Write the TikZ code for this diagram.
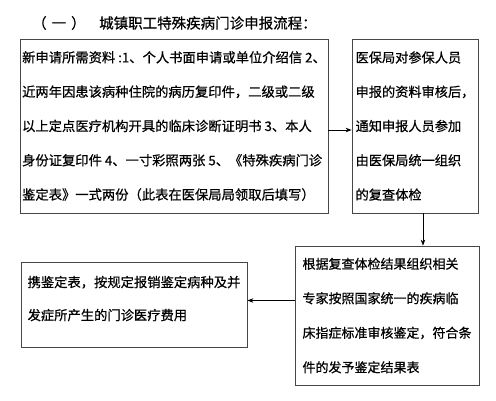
\documentclass[tikz,border=0pt]{standalone}
\usepackage{fontspec}
\newfontfamily\cjk[FakeBold=0.6]{Noto Sans CJK SC}
\usetikzlibrary{arrows.meta}
\tikzset{
  flowbox/.style={draw=black!72, line width=0.8pt, inner sep=0pt, align=left, text=black},
  flowarrow/.style={draw=black, line width=0.8pt, -{Stealth[length=6pt,width=4.5pt]}},
  titletext/.style={anchor=west, inner sep=0pt, font=\cjk\fontsize{14.5}{16}\selectfont},
}
\begin{document}
\begin{tikzpicture}[x=1pt,y=-1pt]
\useasboundingbox (0,0) rectangle (496,400);
\fill[white] (0,0) rectangle (496,400);
\node[titletext] (t0) at (32,23) {（\hspace{5pt}一\hspace{5pt}）};
\node[titletext] (t1) at (99,23) {城镇职工特殊疾病门诊申报流程：};

\node[flowbox, minimum width=308pt, minimum height=174pt, font=\cjk\fontsize{13.3}{34.3}\selectfont] (b1) at (174,126)
{新申请所需资料 :1、个人书面申请或单位介绍信 2、\\
近两年因患该病种住院的病历复印件，二级或二级\\
以上定点医疗机构开具的临床诊断证明书 3、本人\\
身份证复印件 4、一寸彩照两张 5、《特殊疾病门诊\\
鉴定表》一式两份（此表在医保局局领取后填写）};

\node[flowbox, minimum width=126pt, minimum height=174pt, font=\cjk\fontsize{13.2}{34.3}\selectfont] (b2) at (415,126)
{医保局对参保人员\\
申报的资料审核后，\\
通知申报人员参加\\
由医保局统一组织\\
的复查体检};

\node[flowbox, minimum width=184pt, minimum height=139pt, font=\cjk\fontsize{13}{34.5}\selectfont] (b3) at (387,315.5)
{根据复查体检结果组织相关\\
专家按照国家统一的疾病临\\
床指症标准审核鉴定，符合条\\
件的发予鉴定结果表};

\node[flowbox, minimum width=226pt, minimum height=85pt, text depth=13pt, font=\cjk\fontsize{13.3}{33}\selectfont] (b4) at (134,304.5)
{携鉴定表，按规定报销鉴定病种及并\\
发症所产生的门诊医疗费用};

\draw[flowarrow] ([yshift=-4pt]b1.east) -- ([yshift=-4pt]b2.west);
\draw[flowarrow] ([xshift=8pt]b2.south) -- ([xshift=8pt]b2.south |- b3.north);
\draw[flowarrow] ([yshift=4pt]b4.east -| b3.west) -- ([yshift=4pt]b4.east);
\end{tikzpicture}
\end{document}
